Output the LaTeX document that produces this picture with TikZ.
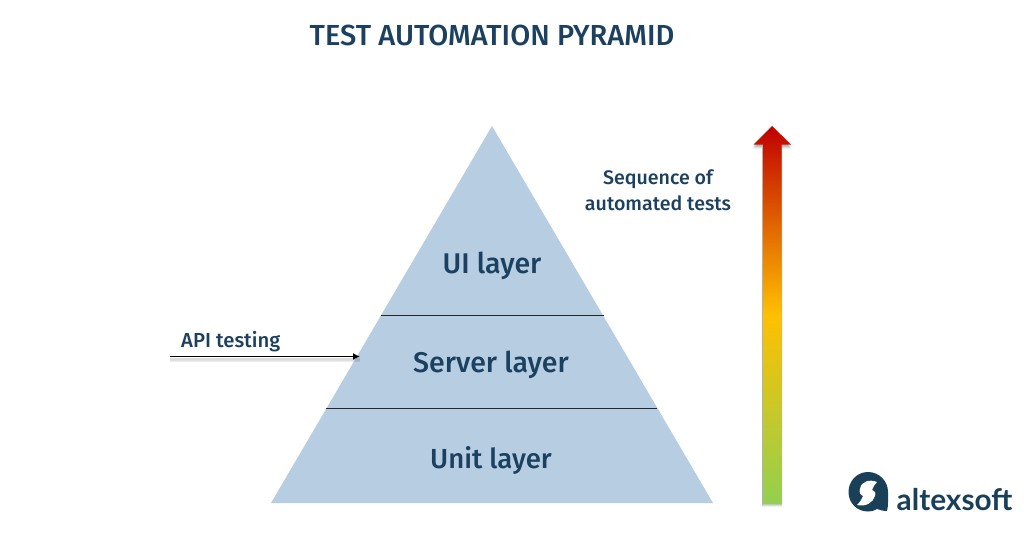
\documentclass[tikz,border=0pt]{standalone}
\usepackage{fontspec}
\usetikzlibrary{arrows.meta}
\setmainfont{Fira Sans Medium}
\newfontfamily\logofont{Lato}
\definecolor{ink}{HTML}{1B4060}
\definecolor{pyr}{HTML}{B7CDE2}
\definecolor{logoc}{HTML}{1A4059}
\definecolor{gbot}{HTML}{92D050}
\definecolor{gmid}{HTML}{FFC000}
\definecolor{gtop}{HTML}{C00000}
\tikzset{
  lab/.style={text=ink,inner sep=0pt,anchor=center},
  layerline/.style={draw=black!85,line width=0.9pt},
  big/.style={lab,font=\fontsize{28.5}{30}\selectfont},
  small/.style={lab,font=\fontsize{19.6}{26}\selectfont,align=center},
}
\begin{document}
\begin{tikzpicture}[x=1pt,y=-1pt]
\useasboundingbox (0,0) rectangle (1024,552);
\fill[white] (0,0) rectangle (1024,552);
% pyramid
\fill[pyr] (492,126) -- (713,503) -- (271,503) -- cycle;
\coordinate (l1a) at (381,315); \coordinate (l1b) at (603.5,315);
\coordinate (l2a) at (326,408); \coordinate (l2b) at (657,408);
\draw[layerline] (l1a) -- (l1b);
\draw[layerline] (l2a) -- (l2b);
% title and labels
\node[lab,font=\fontsize{29}{32}\selectfont] (title) at (492,35) {TEST AUTOMATION PYRAMID};
\node[big] (ui) at (492,266) {UI layer};
\node[big] (server) at (491,365) {Server layer};
\node[big,font=\fontsize{27.6}{30}\selectfont] (unit) at (491,460) {Unit layer};
\node[small] (seq) at (658,190) {Sequence of\\automated tests};
\node[lab,anchor=west,font=\fontsize{20.3}{26}\selectfont] (api) at (181,342) {API testing};
% API arrow
\coordinate (as) at (170,356.5); \coordinate (ae) at (360,356.5);
\foreach \o/\op in {2/0.12,3/0.14,4/0.12,5/0.07}{
  \draw[black,opacity=\op,line width=1.6pt] ([yshift=-\o pt]as) -- ([yshift=-\o pt]ae);
}
\draw[black,line width=1.9pt,-{Latex[length=7pt,width=7pt]}] (as) -- (ae);
% gradient arrow shadow
\foreach \o/\op in {1/0.10,2/0.10,3/0.08,4/0.05}{
  \fill[black,opacity=\op] (772,126+\o) -- (791,145+\o) -- (782,145+\o) -- (782,503+\o) -- (762,503+\o) -- (762,145+\o) -- (753,145+\o) -- cycle;
}
% gradient arrow
\shade[bottom color=gbot,top color=gtop,middle color=gmid]
  (772,126) -- (791,144.5) -- (781.5,144.5) -- (781.5,504) -- (763,504) -- (763,144.5) -- (753.5,144.5) -- cycle;
% logo
\fill[logoc] (868,472) .. controls (879,472) and (888,481) .. (888,492)
  -- (888,499) .. controls (888,505) and (888,508) .. (887,511)
  .. controls (883,511) and (880,510) .. (877,509)
  .. controls (874,511) and (871,511.5) .. (868,511.5)
  .. controls (857,511.5) and (848.5,503) .. (848.5,492)
  .. controls (848.5,481) and (857,472) .. (868,472) -- cycle;
\fill[white] (877,482) .. controls (870,479) and (861,481) .. (860,489)
  .. controls (859,492) and (860,495) .. (863,496)
  .. controls (862,499) and (860,502) .. (857,505)
  .. controls (865,507) and (873,503) .. (875,496)
  .. controls (876,493) and (875,491) .. (872,490)
  .. controls (873,487) and (875,484) .. (877,482) -- cycle;
\node[inner sep=0pt,anchor=base west,text=logoc,font=\logofont\bfseries\fontsize{29.8}{32}\selectfont] (logo) at (896.5,510.5) {altexsoft};
\end{tikzpicture}
\end{document}
